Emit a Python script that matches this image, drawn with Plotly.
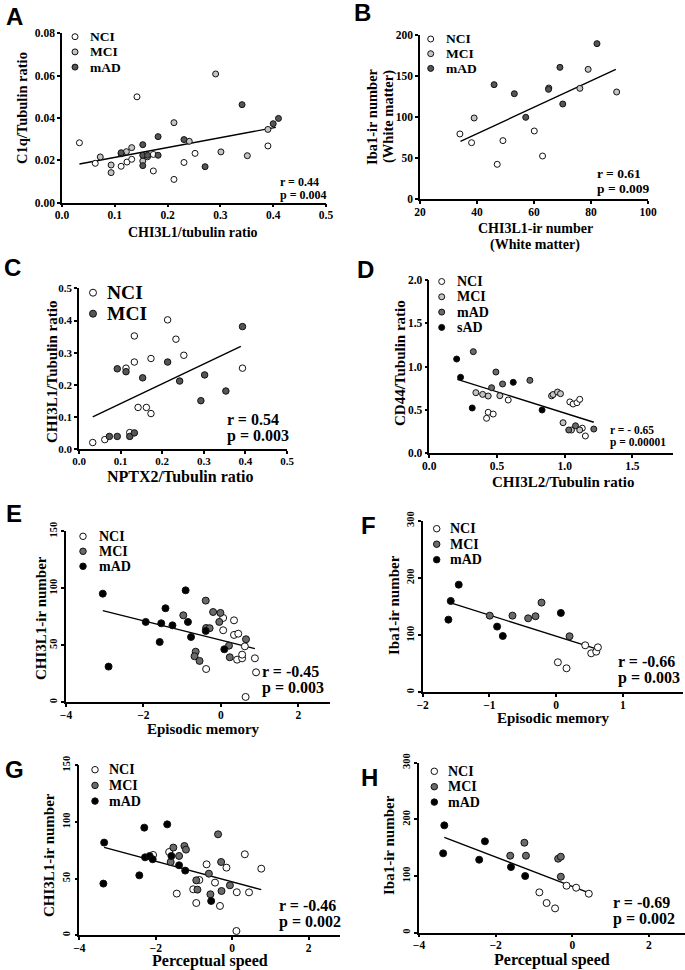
import plotly.graph_objects as go

W, H = 685, 970
SERIF = "Liberation Serif"
SANS = "Liberation Sans"

# ---------------- DATA ----------------
# Panel A: C1q/Tubulin vs CHI3L1/tubulin
A_NCI_x = [0.033, 0.142, 0.063, 0.112, 0.123, 0.132, 0.173, 0.173, 0.212, 0.231, 0.252, 0.390]
A_NCI_y = [0.0283, 0.050, 0.0186, 0.0172, 0.0192, 0.0205, 0.0150, 0.0228, 0.0110, 0.0190, 0.0233, 0.0268]
A_MCI_x = [0.0725, 0.093, 0.093, 0.122, 0.132, 0.153, 0.162, 0.212, 0.241, 0.291, 0.301, 0.351, 0.390]
A_MCI_y = [0.0216, 0.0178, 0.0142, 0.0241, 0.0260, 0.0197, 0.0217, 0.0378, 0.0290, 0.0608, 0.0240, 0.0222, 0.0346]
A_mAD_x = [0.112, 0.112, 0.153, 0.153, 0.153, 0.162, 0.182, 0.182, 0.231, 0.271, 0.341, 0.400, 0.410]
A_mAD_y = [0.0231, 0.0236, 0.0274, 0.0224, 0.0175, 0.0224, 0.0312, 0.0224, 0.0298, 0.0170, 0.0463, 0.0373, 0.0398]
A_fit_x = [0.033, 0.405]
A_fit_y = [0.0183, 0.0356]
A_stats = ["r = 0.44", "p = 0.004"]

# Panel B: Iba1-ir vs CHI3L1-ir (white matter)
B_NCI_x = [34.0, 38.1, 47.1, 49.1, 60.1, 63.0]
B_NCI_y = [79.4, 68.8, 42.5, 71.3, 83.0, 52.6]
B_MCI_x = [39.0, 65.2, 76.1, 79.0, 89.0]
B_MCI_y = [98.8, 135.2, 134.8, 157.9, 130.4]
B_mAD_x = [46.0, 53.1, 57.1, 65.1, 69.1, 70.1, 82.1]
B_mAD_y = [139.3, 128.3, 99.6, 133.6, 160.3, 115.8, 189.1]
B_fit_x = [34.2, 88.7]
B_fit_y = [70.4, 157.9]
B_stats = ["r = 0.61", "p = 0.009"]

# Panel C: CHI3L1/Tubulin vs NPTX2/Tubulin
C_NCI_x = [0.033, 0.062, 0.113, 0.122, 0.133, 0.133, 0.142, 0.162, 0.173, 0.173, 0.213, 0.233, 0.252, 0.393]
C_NCI_y = [0.021, 0.030, 0.252, 0.052, 0.271, 0.352, 0.130, 0.130, 0.111, 0.282, 0.402, 0.342, 0.292, 0.252]
C_MCI_x = [0.073, 0.092, 0.092, 0.113, 0.122, 0.133, 0.153, 0.213, 0.242, 0.293, 0.302, 0.353, 0.393]
C_MCI_y = [0.040, 0.040, 0.250, 0.241, 0.040, 0.051, 0.222, 0.271, 0.212, 0.151, 0.231, 0.181, 0.381]
C_fit_x = [0.033, 0.389]
C_fit_y = [0.101, 0.320]
C_stats = ["r = 0.54", "p = 0.003"]

# Panel D: CD44/Tubulin vs CHI3L2/Tubulin
D_NCI_x = [0.583, 0.435, 0.472, 0.423, 1.038, 1.062, 1.091, 1.111, 1.130, 1.153]
D_NCI_y = [0.615, 0.473, 0.453, 0.404, 0.593, 0.569, 0.584, 0.623, 0.290, 0.200]
D_MCI_x = [0.344, 0.394, 0.435, 0.521, 0.903, 0.914, 0.947, 0.969, 0.988, 1.050, 1.111]
D_MCI_y = [0.700, 0.680, 0.661, 0.665, 0.663, 0.678, 0.707, 0.688, 0.353, 0.269, 0.269]
D_mAD_x = [0.325, 0.492, 0.460, 0.541, 0.743, 1.030, 1.080, 1.215]
D_mAD_y = [1.173, 0.938, 0.757, 0.800, 0.842, 0.269, 0.318, 0.280]
D_sAD_x = [0.202, 0.231, 0.317, 0.620, 0.833]
D_sAD_y = [1.088, 0.877, 0.523, 0.819, 0.500]
D_fit_x = [0.207, 1.215]
D_fit_y = [0.854, 0.358]
D_stats = ["r = - 0.65", "p = 0.00001"]

# Panel E: CHI3L1-ir vs Episodic memory
E_NCI_x = [-0.38, 0.06, 0.06, 0.34, 0.34, 0.45, 0.42, 0.55, 0.55, 0.62, 0.88, 0.91, 0.64]
E_NCI_y = [29.2, 74.0, 63.2, 71.9, 59.1, 60.2, 37.4, 38.6, 41.8, 49.1, 38.6, 26.3, 4.7]
E_MCI_x = [-0.97, -0.65, -0.68, -0.55, -0.39, -0.38, -0.29, -0.20, -0.04, -0.01, 0.21, 0.23, 0.65]
E_MCI_y = [76.3, 44.4, 40.4, 36.3, 89.2, 65.2, 65.0, 79.2, 70.5, 78.4, 49.7, 39.5, 55.3]
E_mAD_x = [-3.05, -2.90, -1.94, -1.54, -1.58, -1.43, -1.25, -0.91, -0.85, -0.77, -0.39, 0.09]
E_mAD_y = [95.3, 31.3, 70.5, 69.3, 52.9, 82.5, 67.5, 98.2, 70.5, 57.3, 62.6, 46.5]
E_fit_x = [-3.05, 0.88]
E_fit_y = [80.4, 47.1]
E_stats = ["r = -0.45", "p = 0.003"]

# Panel F: Iba1-ir vs Episodic memory
F_NCI_x = [0.025, 0.155, 0.435, 0.525, 0.600, 0.625]
F_NCI_y = [52.5, 42.0, 82.2, 68.2, 71.1, 78.7]
F_MCI_x = [-0.995, -0.655, -0.420, -0.310, -0.220, 0.200]
F_MCI_y = [134.1, 134.1, 129.4, 133.0, 156.9, 98.0]
F_mAD_x = [-1.46, -1.58, -1.615, -0.885, -0.80, 0.07]
F_mAD_y = [188.3, 159.8, 127.1, 114.9, 98.5, 138.8]
F_fit_x = [-1.58, 0.59]
F_fit_y = [156.3, 76.4]
F_stats = ["r = -0.66", "p = 0.003"]

# Panel G: CHI3L1-ir vs Perceptual speed
G_NCI_x = [-2.07, -1.65, -1.45, -1.02, -0.86, -0.94, -0.67, -0.45, -0.32, -0.15, 0.12, 0.33, 0.44, 0.76, 0.11]
G_NCI_y = [70.9, 73.5, 36.8, 40.6, 48.8, 28.5, 62.6, 46.5, 25.9, 59.7, 38.0, 71.5, 37.9, 58.8, 3.8]
G_MCI_x = [-1.54, -1.61, -1.39, -1.25, -1.21, -0.94, -0.91, -0.57, -0.61, -0.37, -0.29, -0.28, -0.06]
G_MCI_y = [77.4, 64.7, 70.0, 78.8, 75.6, 48.5, 40.3, 36.2, 54.4, 89.1, 64.7, 39.1, 44.1]
G_mAD_x = [-3.35, -3.37, -2.30, -2.43, -2.28, -2.16, -2.08, -1.70, -1.59, -1.39, -1.23, -0.55]
G_mAD_y = [81.8, 45.6, 95.0, 52.9, 68.8, 70.0, 67.1, 97.9, 70.0, 61.8, 57.1, 30.3]
G_fit_x = [-3.35, 0.76]
G_fit_y = [77.6, 40.3]
G_stats = ["r = -0.46", "p = 0.002"]

# Panel H: Iba1-ir vs Perceptual speed
H_NCI_x = [-0.86, -0.67, -0.45, -0.15, 0.10, 0.43]
H_NCI_y = [71.2, 52.4, 42.9, 82.9, 79.4, 68.8]
H_MCI_x = [-1.62, -1.25, -1.21, -0.37, -0.30, -0.30]
H_MCI_y = [135.9, 158.8, 135.9, 130.6, 134.1, 98.8]
H_mAD_x = [-3.34, -3.37, -2.28, -2.43, -1.60, -1.23]
H_mAD_y = [189.4, 140.0, 161.2, 128.8, 115.9, 100.0]
H_fit_x = [-3.34, 0.42]
H_fit_y = [168.2, 70.6]
H_stats = ["r = -0.69", "p = 0.002"]

# Axis titles
X_TITLES = {"A": ["CHI3L1/tubulin ratio"], "B": ["CHI3L1-ir number", "(White matter)"],
            "C": ["NPTX2/Tubulin ratio"], "D": ["CHI3L2/Tubulin ratio"],
            "E": ["Episodic memory"], "F": ["Episodic memory"],
            "G": ["Perceptual speed"], "H": ["Perceptual speed"]}
Y_TITLES = {"A": ["C1q/Tubulin ratio"], "B": ["Iba1-ir number", "(White matter)"],
            "C": ["CHI3L1/Tubulin ratio"], "D": ["CD44/Tubulin ratio"],
            "E": ["CHI3L1-ir number"], "F": ["Iba1-ir number"],
            "G": ["CHI3L1-ir number"], "H": ["Iba1-ir number"]}

# ---------------- STYLE / LAYOUT ----------------
WHITE, LGREY, MGREY, DGREY, BLACK = "#ffffff", "#c4c4c4", "#6a6a6a", "#555555", "#000000"

def px(x):
    return x / W

def py(y):
    return 1 - y / H

panels = {
    "A": dict(xr=[0, 0.5], yr=[0, 0.08], xd=[62, 326], yd=[33.3, 202.7], xdt=0.1, ydt=0.02,
              xf=".1f", yf=".2f", yang=0, msize=6, tf=11.5,
              groups=[("NCI", A_NCI_x, A_NCI_y, WHITE), ("MCI", A_MCI_x, A_MCI_y, LGREY),
                      ("mAD", A_mAD_x, A_mAD_y, DGREY)],
              fit=(A_fit_x, A_fit_y), stats=A_stats,
              leg=dict(sx=75, tx=88, y0=36.7, dy=15.2, fs=13.5, ms=6),
              st=dict(x=278, y0=181.5, dy=14, fs=12),
              xt=dict(x=193, y=232, fs=14), yt=dict(x=22, y=108, fs=14.5),
              lab=(14, 16)),
    "B": dict(xr=[20, 100], yr=[0, 200], xd=[420, 648], yd=[34.7, 199.3], xdt=20, ydt=50,
              xf="d", yf="d", yang=0, msize=6, tf=11.5,
              groups=[("NCI", B_NCI_x, B_NCI_y, WHITE), ("MCI", B_MCI_x, B_MCI_y, LGREY),
                      ("mAD", B_mAD_x, B_mAD_y, DGREY)],
              fit=(B_fit_x, B_fit_y), stats=B_stats,
              leg=dict(sx=430.7, tx=444, y0=39, dy=14.7, fs=13.5, ms=6),
              st=dict(x=595, y0=173.5, dy=15, fs=13.5),
              xt=dict(x=535, y=228, fs=14, dy=17), yt=dict(x=372, y=117, fs=14.5, dx=16),
              lab=(362, 13)),
    "C": dict(xr=[0, 0.5], yr=[0, 0.5], xd=[79, 287], yd=[288.3, 449.3], xdt=0.1, ydt=0.1,
              xf=".1f", yf=".1f", yang=0, msize=6.5, tf=11,
              groups=[("NCI", C_NCI_x, C_NCI_y, WHITE), ("MCI", C_MCI_x, C_MCI_y, DGREY)],
              fit=(C_fit_x, C_fit_y), stats=C_stats,
              leg=dict(sx=93, tx=105, y0=292.7, dy=21, fs=19.5, ms=7),
              st=dict(x=225, y0=419, dy=17, fs=16),
              xt=dict(x=180, y=476, fs=16), yt=dict(x=52, y=372, fs=15),
              lab=(12, 267)),
    "D": dict(xr=[0, 1.8], yr=[0, 2.0], xd=[429.3, 673], yd=[280, 453.3], xdt=0.5, ydt=0.5,
              xf=".1f", yf=".1f", yang=0, msize=6, tf=11.5,
              groups=[("NCI", D_NCI_x, D_NCI_y, WHITE), ("MCI", D_MCI_x, D_MCI_y, LGREY),
                      ("mAD", D_mAD_x, D_mAD_y, MGREY), ("sAD", D_sAD_x, D_sAD_y, BLACK)],
              fit=(D_fit_x, D_fit_y), stats=D_stats,
              leg=dict(sx=441.7, tx=455, y0=281.5, dy=15.3, fs=14, ms=6),
              st=dict(x=608, y0=429.5, dy=13, fs=11.5),
              xt=dict(x=563, y=482, fs=15), yt=dict(x=400, y=363, fs=15),
              lab=(366, 269)),
    "E": dict(xr=[-4, 2.82], yr=[0, 150], xd=[66, 330], yd=[531.3, 702.3], xdt=2, ydt=50,
              xf="d", yf="d", yang=-90, msize=7, tf=10.5,
              groups=[("NCI", E_NCI_x, E_NCI_y, WHITE), ("MCI", E_MCI_x, E_MCI_y, MGREY),
                      ("mAD", E_mAD_x, E_mAD_y, BLACK)],
              fit=(E_fit_x, E_fit_y), stats=E_stats,
              leg=dict(sx=83, tx=97, y0=536.3, dy=15, fs=14, ms=6.5),
              st=dict(x=260, y0=671, dy=17, fs=16),
              xt=dict(x=203, y=729, fs=15), yt=dict(x=41, y=618, fs=15),
              lab=(14, 513)),
    "F": dict(xr=[-2, 1.9], yr=[0, 300], xd=[422.7, 683], yd=[520.8, 692.3], xdt=1, ydt=100,
              xf="d", yf="d", yang=-90, msize=7, tf=10.5,
              groups=[("NCI", F_NCI_x, F_NCI_y, WHITE), ("MCI", F_MCI_x, F_MCI_y, MGREY),
                      ("mAD", F_mAD_x, F_mAD_y, BLACK)],
              fit=(F_fit_x, F_fit_y), stats=F_stats,
              leg=dict(sx=436.7, tx=448, y0=528.7, dy=15.5, fs=14, ms=6.5),
              st=dict(x=616, y0=661, dy=17, fs=16),
              xt=dict(x=553, y=718, fs=15), yt=dict(x=394, y=605, fs=15),
              lab=(368, 525)),
    "G": dict(xr=[-4, 2.82], yr=[0, 150], xd=[79.3, 340], yd=[765.3, 935.3], xdt=2, ydt=50,
              xf="d", yf="d", yang=-90, msize=7, tf=10.5,
              groups=[("NCI", G_NCI_x, G_NCI_y, WHITE), ("MCI", G_MCI_x, G_MCI_y, MGREY),
                      ("mAD", G_mAD_x, G_mAD_y, BLACK)],
              fit=(G_fit_x, G_fit_y), stats=G_stats,
              leg=dict(sx=95, tx=107, y0=769.7, dy=15.7, fs=14, ms=6.5),
              st=dict(x=277, y0=905, dy=17, fs=16),
              xt=dict(x=210, y=961, fs=16), yt=dict(x=49, y=855, fs=15),
              lab=(14, 769)),
    "H": dict(xr=[-4, 2.94], yr=[0, 300], xd=[419, 685], yd=[762.7, 932.7], xdt=2, ydt=100,
              xf="d", yf="d", yang=-90, msize=7, tf=10.5,
              groups=[("NCI", H_NCI_x, H_NCI_y, WHITE), ("MCI", H_MCI_x, H_MCI_y, MGREY),
                      ("mAD", H_mAD_x, H_mAD_y, BLACK)],
              fit=(H_fit_x, H_fit_y), stats=H_stats,
              leg=dict(sx=434.3, tx=446, y0=771.3, dy=15.4, fs=14, ms=6.5),
              st=dict(x=611, y0=902, dy=17, fs=16),
              xt=dict(x=552, y=960, fs=16), yt=dict(x=389, y=845, fs=15),
              lab=(369, 777)),
}

fig = go.Figure()
shapes, annotations = [], []
layout_axes = {}

for i, (key, p) in enumerate(panels.items(), start=1):
    xa = "x" if i == 1 else f"x{i}"
    ya = "y" if i == 1 else f"y{i}"
    xname = "xaxis" if i == 1 else f"xaxis{i}"
    yname = "yaxis" if i == 1 else f"yaxis{i}"
    xtickfont = dict(family=SERIF, size=p["tf"] if p["yang"] == 0 else 11.5,
                     color="black", weight="bold")
    ytickfont = dict(family=SERIF, size=p["tf"], color="black", weight="bold")
    layout_axes[xname] = dict(
        domain=[px(p["xd"][0]), px(p["xd"][1])], range=p["xr"], anchor=ya,
        showline=True, linecolor="black", linewidth=1.5, ticks="outside", ticklen=3,
        tickwidth=1.5, tickcolor="black", showgrid=False, zeroline=False,
        dtick=p["xdt"], tick0=p["xr"][0], tickformat=p["xf"], tickfont=xtickfont,
        ticklabelstandoff=-2, automargin=False, fixedrange=True)
    layout_axes[yname] = dict(
        domain=[py(p["yd"][1]), py(p["yd"][0])], range=p["yr"], anchor=xa,
        showline=True, linecolor="black", linewidth=1.5, ticks="outside", ticklen=3,
        tickwidth=1.5, tickcolor="black", showgrid=False, zeroline=False,
        dtick=p["ydt"], tick0=0, tickformat=p["yf"], tickfont=ytickfont,
        tickangle=p["yang"], automargin=False, fixedrange=True)

    # regression line
    fx, fy = p["fit"]
    fig.add_trace(go.Scatter(x=fx, y=fy, mode="lines", line=dict(color="black", width=1.4),
                             xaxis=xa, yaxis=ya, showlegend=False, hoverinfo="skip"))
    # groups
    for (name, gx, gy, col) in p["groups"]:
        fig.add_trace(go.Scatter(
            x=gx, y=gy, mode="markers", name=name, showlegend=False,
            marker=dict(size=p["msize"], color=col, line=dict(color="#111111", width=1)),
            xaxis=xa, yaxis=ya, cliponaxis=False))

    # custom legend
    lg = p["leg"]
    for j, (name, gx, gy, col) in enumerate(p["groups"]):
        cy = lg["y0"] + j * lg["dy"]
        r = lg["ms"] / 2
        shapes.append(dict(type="circle", xref="paper", yref="paper", xsizemode="pixel",
                           ysizemode="pixel", xanchor=px(lg["sx"]), yanchor=py(cy),
                           x0=-r, x1=r, y0=-r, y1=r, fillcolor=col,
                           line=dict(color="#111111", width=1)))
        annotations.append(dict(text=name, xref="paper", yref="paper", x=px(lg["tx"]),
                                y=py(cy), xanchor="left", yanchor="middle", showarrow=False,
                                font=dict(family=SERIF, size=lg["fs"], color="black",
                                          weight="bold")))
    # stats
    st = p["stats"]
    for j, t in enumerate(st):
        annotations.append(dict(text=t, xref="paper", yref="paper",
                                x=px(p["st"]["x"]), y=py(p["st"]["y0"] + j * p["st"]["dy"]),
                                xanchor="left", yanchor="middle", showarrow=False,
                                font=dict(family=SERIF, size=p["st"]["fs"], color="black",
                                          weight="bold")))
    # x title
    xt = p["xt"]
    for j, t in enumerate(X_TITLES[key]):
        annotations.append(dict(text=t, xref="paper", yref="paper", x=px(xt["x"]),
                                y=py(xt["y"] + j * xt.get("dy", 0)), xanchor="center",
                                yanchor="middle", showarrow=False,
                                font=dict(family=SERIF, size=xt["fs"], color="black",
                                          weight="bold")))
    # y title
    yt = p["yt"]
    for j, t in enumerate(Y_TITLES[key]):
        annotations.append(dict(text=t, xref="paper", yref="paper",
                                x=px(yt["x"] + j * yt.get("dx", 0)), y=py(yt["y"]),
                                xanchor="center", yanchor="middle", textangle=-90,
                                showarrow=False,
                                font=dict(family=SERIF, size=yt["fs"], color="black",
                                          weight="bold")))
    # panel letter
    lx, ly = p["lab"]
    annotations.append(dict(text=key, xref="paper", yref="paper", x=px(lx), y=py(ly),
                            xanchor="center", yanchor="middle", showarrow=False,
                            font=dict(family=SANS, size=24, color="black", weight="bold")))

fig.update_layout(
    template="none",
    width=W, height=H, margin=dict(l=0, r=0, t=0, b=0, autoexpand=False),
    paper_bgcolor="white", plot_bgcolor="white", showlegend=False,
    shapes=shapes, annotations=annotations, **layout_axes)

fig.write_html("out.html", config={"displayModeBar": False},
               post_script="document.body.style.margin='0';document.body.style.overflow='hidden';")
